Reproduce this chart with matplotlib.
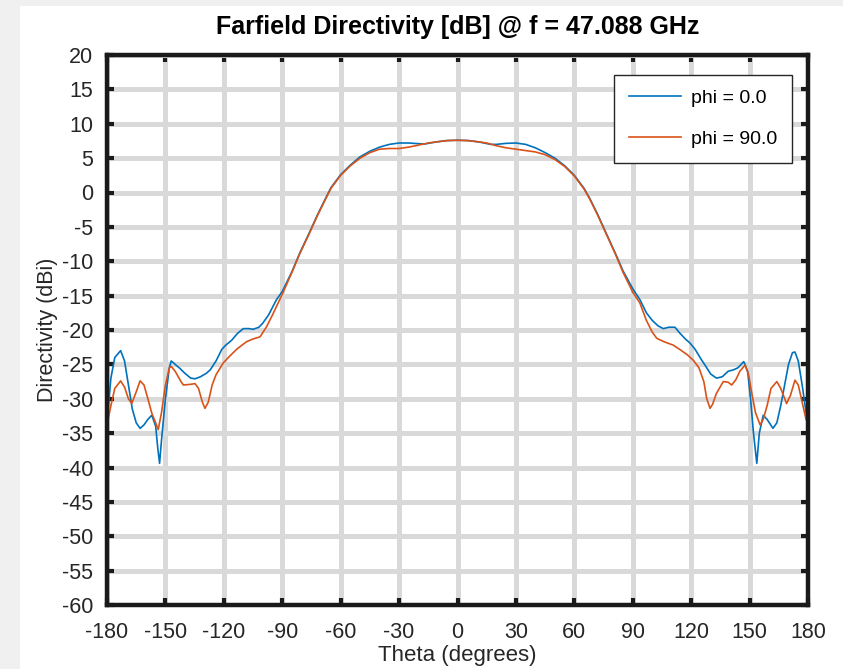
import matplotlib
matplotlib.use('Agg')
import matplotlib.pyplot as plt
from matplotlib.patches import Rectangle

# phi = 0.0 cut
theta_phi0 = [-180, -178, -176, -173, -171, -169, -167, -165, -163, -161, -159, -157,
              -155, -154, -153, -152, -150, -148, -147, -145, -142.5, -140, -137,
              -134.8, -132, -129, -127, -124, -121, -119, -116, -113, -110, -107,
              -105, -102, -100, -97, -93, -90, -85, -81, -76, -72, -68, -65, -60,
              -55, -50, -45, -40, -35, -30, -25, -20, -17, -12, -6, 0, 6, 12, 17,
              20, 25, 30, 35, 40, 45, 50, 55, 60, 65, 68, 72, 76, 81, 85, 90, 93.7,
              97, 100, 103, 105.7, 108.5, 111.7, 114, 117, 119.4, 122, 125, 128,
              130, 133, 136, 139, 141.7, 144, 147, 149, 150.5, 152, 153.7, 155, 157,
              159, 162, 164, 166, 168, 170, 172, 173.3, 175, 177, 179, 180]
dir_phi0 = [-33.5, -27, -24, -23.0, -24.5, -28, -31.5, -33.5, -34.3, -33.8, -33, -32.4,
            -34, -37, -39.4, -36, -30, -25.5, -24.5, -25.0, -25.6, -26.3, -27.0,
            -27.1, -26.8, -26.3, -25.8, -24.5, -22.8, -22.2, -21.5, -20.5, -19.8, -19.8,
            -19.9, -19.6, -19.0, -17.8, -15.6, -14.4, -11.5, -8.8, -5.8, -3.3, -1.0, 0.7, 2.6,
            4.0, 5.2, 6.0, 6.6, 7.0, 7.2, 7.2, 7.1, 7.05, 7.3, 7.55, 7.6, 7.55, 7.3, 7.0,
            7.0, 7.15, 7.2, 7.0, 6.5, 5.8, 5.0, 3.9, 2.5, 0.6, -0.9, -3.2, -5.7, -8.8, -11.4, -14.0, -15.6,
            -17.5, -18.6, -19.4, -19.8, -19.6, -19.6, -20.4, -21.3, -21.9, -22.8, -24.2, -25.5,
            -26.4, -27.0, -26.8, -26.0, -25.8, -25.5, -24.6, -26, -30, -35, -39.4, -35, -32.4,
            -33, -34.3, -33.5, -31, -28, -25, -23.3, -23.2, -24.5, -28, -32, -33.6]

# phi = 90.0 cut
theta_phi90 = [-180, -178, -176, -173, -171, -169, -167.3, -165, -163, -161, -159, -157,
               -155, -153.7, -152, -150, -148, -147, -145, -142, -140.8, -137, -134.8,
               -133, -131, -129.7, -128, -126, -124, -120.3, -117, -113, -108.3, -105,
               -101.4, -98, -95, -93, -90, -85, -81, -76, -72, -68, -65, -60, -55, -50,
               -45, -40, -35, -30, -25, -20, -15, -10, -5, 0, 5, 10, 15, 20, 25, 30, 35,
               40, 45, 50, 55, 60, 65, 68, 72, 76, 81, 85, 90, 93.7, 97, 100, 102.3, 106,
               110.8, 114, 118, 121.1, 124, 126.5, 128, 129.7, 131, 133, 136.5, 139,
               140.8, 143, 145, 147.7, 149.5, 151, 153, 155.4, 157, 159, 161, 164, 166,
               169, 171, 173.3, 175, 177, 179, 180]
dir_phi90 = [-33.8, -31, -28.5, -27.4, -28.3, -30, -30.7, -29, -27.4, -28, -30, -32.1,
             -33.5, -34.5, -32, -28, -25.5, -25.3, -26, -27.5, -28.0, -27.9, -27.8,
             -28.5, -30.5, -31.4, -30.5, -28, -26.5, -24.8, -23.8, -22.7, -21.7, -21.3,
             -21.0, -19.5, -17.8, -16.6, -14.8, -11.6, -8.9, -5.9, -3.4, -1.1, 0.6, 2.5, 3.9, 5.0,
             5.8, 6.3, 6.4, 6.4, 6.6, 6.9, 7.2, 7.4, 7.55, 7.6, 7.55, 7.4, 7.2, 6.8, 6.5, 6.3, 6.1,
             5.9, 5.5, 4.8, 3.8, 2.4, 0.5, -1.0, -3.3, -5.8, -8.9, -11.6, -14.5, -16.1, -18.6, -20.3, -21.2, -21.7,
             -22.2, -22.8, -23.6, -24.4, -25.5, -27.5, -30, -31.4, -30.8, -29.2, -27.5, -27.6,
             -28.0, -27.2, -26, -25.1, -26.5, -29, -32, -33.8, -33, -31, -28.5, -27.5, -28.5,
             -30.7, -29.5, -27.3, -28, -30.5, -33, -33.6]

x_ticks = list(range(-180, 181, 30))
y_ticks = list(range(-60, 21, 5))

plt.rcParams['font.family'] = ['Liberation Sans', 'DejaVu Sans']
plt.rcParams['axes.unicode_minus'] = False

fig = plt.figure(figsize=(8.43, 6.69), dpi=100)
fig.patch.set_facecolor('#f0f0f0')
# white plot window (screenshot has a gray strip top and left)
fig.patches.append(Rectangle((20 / 843, 0), 1, 1 - 6 / 669, transform=fig.transFigure,
                             facecolor='white', edgecolor='none', zorder=-5))

ax = fig.add_axes([107 / 843, 1 - 605 / 669, 701 / 843, 550 / 669])
ax.set_zorder(1)
ax.plot(theta_phi0, dir_phi0, color='#0072bd', lw=1.2, label='phi = 0.0')
ax.plot(theta_phi90, dir_phi90, color='#d95319', lw=1.2, label='phi = 90.0')

ax.set_xlim(-180, 180)
ax.set_ylim(-60, 20)
ax.set_xticks(x_ticks)
ax.set_yticks(y_ticks)
ax.grid(True, color='#d9d9d9', lw=3.6)
ax.set_axisbelow(True)
for sp in ax.spines.values():
    sp.set_linewidth(3.2)
    sp.set_color('#1a1a1a')
ax.tick_params(direction='in', length=5, width=3, colors='#1a1a1a', labelsize=15.5,
               labelcolor='#262626', top=True, right=True)
ax.tick_params(axis='x', pad=12)
ax.tick_params(axis='y', pad=10)

ax.set_xlabel('Theta (degrees)', fontsize=16, color='#262626', labelpad=2)
ax.set_ylabel('Directivity (dBi)', fontsize=15.5, color='#262626', labelpad=3)
ax.set_title('Farfield Directivity [dB] @ f = 47.088 GHz', fontsize=18, fontweight='bold',
             pad=15)

leg = ax.legend(loc='upper right', bbox_to_anchor=(0.977, 0.964), borderaxespad=0,
                fontsize=14, frameon=True, fancybox=False, edgecolor='#262626',
                handlelength=2.7, handletextpad=0.5, borderpad=0.75, labelspacing=1.2,
                framealpha=1)
leg.get_frame().set_linewidth(1.0)

fig.savefig('out.png', dpi=100, facecolor=fig.get_facecolor())
